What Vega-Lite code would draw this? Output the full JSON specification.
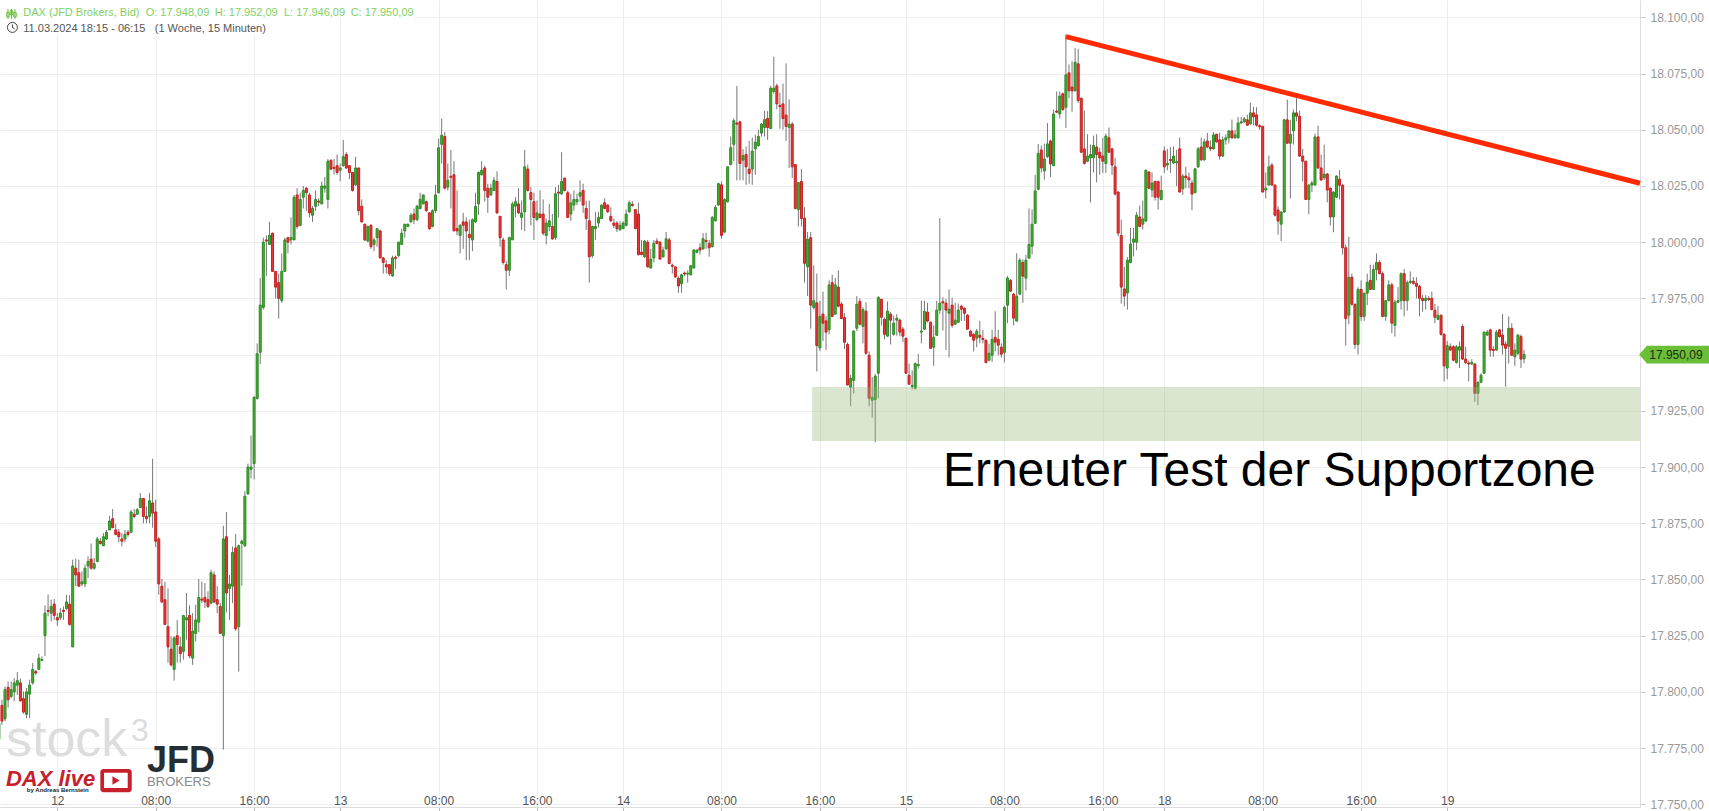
{"$schema":"https://vega.github.io/schema/vega-lite/v6.json","width":1640,"height":807,"padding":{"left":0,"top":0,"right":69,"bottom":4},"autosize":{"type":"none"},"background":"#ffffff","config":{"view":{"stroke":null},"font":"Liberation Sans"},
"datasets":{"candles":[
{"i":-1,"o":17779,"c":17786,"h":17788,"l":17777},{"i":0,"o":17794,"c":17787,"h":17796.5,"l":17785.4},{"i":1,"o":17788,"c":17801,"h":17802.4,"l":17787},{"i":2,"o":17802,"c":17796.5,"h":17804.6,"l":17793},{"i":3,"o":17798,"c":17801,"h":17804.6,"l":17797.2},{"i":4,"o":17800,"c":17804,"h":17806.1,"l":17795.8},{"i":5,"o":17803,"c":17805,"h":17808.8,"l":17798.7},{"i":6,"o":17804,"c":17796,"h":17806,"l":17795.8},{"i":7,"o":17797,"c":17791,"h":17800.2,"l":17790.3},{"i":8,"o":17790,"c":17800,"h":17801.7,"l":17788.3},{"i":9,"o":17799,"c":17803,"h":17805.4,"l":17788.3},{"i":10,"o":17804,"c":17810,"h":17812.8,"l":17803.2},{"i":11,"o":17809,"c":17808.4,"h":17809.8,"l":17807.6},{"i":12,"o":17810,"c":17815,"h":17817,"l":17810},{"i":13,"o":17814,"c":17814.4,"h":17815.8,"l":17813.6},{"i":14,"o":17825,"c":17835,"h":17838.5,"l":17816},{"i":15,"o":17836.3,"c":17835.8,"h":17843.3,"l":17833.6},{"i":16,"o":17835,"c":17838,"h":17841,"l":17831.3},{"i":17,"o":17839,"c":17834,"h":17841.3,"l":17832},{"i":18,"o":17833,"c":17832,"h":17835,"l":17829.4},{"i":19,"o":17833,"c":17835,"h":17837.3,"l":17832},{"i":20,"o":17836.3,"c":17835.8,"h":17838,"l":17832},{"i":21,"o":17837,"c":17840,"h":17843.2,"l":17836.5},{"i":22,"o":17839,"c":17830,"h":17843,"l":17829.4},{"i":23,"o":17820,"c":17856,"h":17858.8,"l":17820},{"i":24,"o":17855,"c":17852,"h":17859.2,"l":17847},{"i":25,"o":17853,"c":17847,"h":17858.8,"l":17847},{"i":26,"o":17848,"c":17849,"h":17853.6,"l":17847},{"i":27,"o":17848,"c":17855,"h":17856.6,"l":17846.6},{"i":28,"o":17856,"c":17858,"h":17860.3,"l":17850.6},{"i":29,"o":17859,"c":17855,"h":17866,"l":17854.3},{"i":30,"o":17855,"c":17857,"h":17859.5,"l":17854.3},{"i":31,"o":17858,"c":17868,"h":17869,"l":17857.6},{"i":32,"o":17867,"c":17866,"h":17868.4,"l":17865.5},{"i":33,"o":17865,"c":17869,"h":17870.6,"l":17865},{"i":34,"o":17868,"c":17871,"h":17872,"l":17867.5},{"i":35,"o":17872,"c":17876,"h":17878.3,"l":17872},{"i":36,"o":17877,"c":17873,"h":17881.3,"l":17872.9},{"i":37,"o":17872,"c":17870,"h":17874.8,"l":17869.6},{"i":38,"o":17871,"c":17869,"h":17872.4,"l":17866.5},{"i":39,"o":17868,"c":17867,"h":17870.6,"l":17864.7},{"i":40,"o":17868,"c":17870,"h":17872,"l":17866.5},{"i":41,"o":17871,"c":17870,"h":17872,"l":17869},{"i":42,"o":17871,"c":17880,"h":17881,"l":17870.6},{"i":43,"o":17879,"c":17878,"h":17881.3,"l":17877.3},{"i":44,"o":17879,"c":17881,"h":17881.8,"l":17878.8},{"i":45,"o":17882,"c":17886,"h":17888.4,"l":17881.8},{"i":46,"o":17886,"c":17878,"h":17886.2,"l":17875},{"i":47,"o":17878,"c":17877,"h":17882.5,"l":17875},{"i":48,"o":17878,"c":17885,"h":17888.4,"l":17875},{"i":49,"o":17884,"c":17879.5,"h":17903.7,"l":17873},
{"i":50,"o":17880,"c":17867,"h":17885.5,"l":17864.4},{"i":51,"o":17868,"c":17848,"h":17869,"l":17843.2},{"i":52,"o":17847,"c":17840,"h":17850.2,"l":17839.5},{"i":53,"o":17841,"c":17830,"h":17849,"l":17830},{"i":54,"o":17829,"c":17820,"h":17846,"l":17813},{"i":55,"o":17819,"c":17812,"h":17824.7,"l":17811.3},{"i":56,"o":17810,"c":17824,"h":17824.7,"l":17805},{"i":57,"o":17825,"c":17821,"h":17832,"l":17813},{"i":58,"o":17820,"c":17817,"h":17824.4,"l":17813},{"i":59,"o":17818,"c":17834,"h":17834,"l":17814.3},{"i":60,"o":17832,"c":17833,"h":17844,"l":17823.2},{"i":61,"o":17834,"c":17816,"h":17838.5,"l":17815},{"i":62,"o":17815,"c":17827,"h":17835,"l":17812},{"i":63,"o":17826,"c":17832,"h":17838.8,"l":17822.4},{"i":64,"o":17831,"c":17842,"h":17850.2,"l":17826.5},{"i":65,"o":17841.3,"c":17840.8,"h":17849,"l":17839.5},{"i":66,"o":17842,"c":17840,"h":17848.4,"l":17837.3},{"i":67,"o":17841,"c":17838,"h":17844.7,"l":17837.3},{"i":68,"o":17839.5,"c":17853,"h":17854.3,"l":17838.8},{"i":69,"o":17852,"c":17840,"h":17853.6,"l":17839.5},{"i":70,"o":17841,"c":17839,"h":17847,"l":17835},{"i":71,"o":17838,"c":17826,"h":17839.5,"l":17825.9},{"i":72,"o":17825,"c":17868,"h":17873.9,"l":17774.3},{"i":73,"o":17869,"c":17844,"h":17880,"l":17835.3},{"i":74,"o":17846,"c":17848,"h":17852,"l":17832},{"i":75,"o":17847,"c":17862,"h":17864.7,"l":17839.5},{"i":76,"o":17864,"c":17828,"h":17870.2,"l":17827.2},{"i":77,"o":17829,"c":17865,"h":17865.5,"l":17809},{"i":78,"o":17866,"c":17867,"h":17867.7,"l":17847.2},{"i":79,"o":17865,"c":17887,"h":17889.2,"l":17864.4},{"i":80,"o":17888,"c":17900,"h":17901.5,"l":17887.7},{"i":81,"o":17899,"c":17900,"h":17914,"l":17895},{"i":82,"o":17901.5,"c":17931,"h":17931.5,"l":17894.5},{"i":83,"o":17930.5,"c":17950.4,"h":17955,"l":17930},{"i":84,"o":17951,"c":17972,"h":17984,"l":17945.7},{"i":85,"o":17971,"c":18000,"h":18002,"l":17970},{"i":86,"o":18001,"c":18000.5,"h":18003,"l":17985},{"i":87,"o":17999,"c":18003,"h":18009,"l":17999},{"i":88,"o":18004,"c":17987,"h":18004.2,"l":17987},{"i":89,"o":17987,"c":17980,"h":17987.2,"l":17975},{"i":90,"o":17982,"c":17975,"h":17986,"l":17966},{"i":91,"o":17974,"c":17987,"h":17995,"l":17973},{"i":92,"o":17987,"c":18001,"h":18002,"l":17987},{"i":93,"o":18002,"c":18000,"h":18002,"l":17995},{"i":94,"o":18001,"c":18002,"h":18011,"l":17999},{"i":95,"o":18001,"c":18020,"h":18021,"l":18001},{"i":96,"o":18021,"c":18007,"h":18024,"l":18006},{"i":97,"o":18007.5,"c":18019,"h":18022,"l":18007},{"i":98,"o":18020,"c":18023,"h":18025,"l":18015},{"i":99,"o":18024,"c":18022,"h":18024.5,"l":18014},
{"i":100,"o":18021,"c":18013,"h":18022,"l":18011},{"i":101,"o":18012,"c":18015,"h":18016,"l":18009},{"i":102,"o":18016,"c":18019,"h":18023,"l":18014},{"i":103,"o":18018.3,"c":18017.8,"h":18019.5,"l":18016},{"i":104,"o":18017,"c":18025,"h":18027,"l":18017},{"i":105,"o":18024,"c":18025,"h":18029,"l":18022},{"i":106,"o":18019,"c":18036,"h":18037,"l":18015},{"i":107,"o":18036.5,"c":18032.5,"h":18036.6,"l":18032},{"i":108,"o":18033.3,"c":18032.8,"h":18037,"l":18030},{"i":109,"o":18034,"c":18031,"h":18039,"l":18030},{"i":110,"o":18032,"c":18033,"h":18035,"l":18027},{"i":111,"o":18034,"c":18038,"h":18045.5,"l":18033.6},{"i":112,"o":18039,"c":18033,"h":18040,"l":18032.6},{"i":113,"o":18034,"c":18031,"h":18034.1,"l":18028},{"i":114,"o":18031,"c":18023,"h":18031.2,"l":18022.5},{"i":115,"o":18025.5,"c":18033,"h":18038,"l":18025},{"i":116,"o":18033,"c":18014,"h":18033.1,"l":18012},{"i":117,"o":18016,"c":18009,"h":18019,"l":18008.8},{"i":118,"o":18008,"c":18001,"h":18008.1,"l":18000.5},{"i":119,"o":18000.5,"c":18007,"h":18007.4,"l":18000},{"i":120,"o":18007.5,"c":17998,"h":18008,"l":17997},{"i":121,"o":17999,"c":18001,"h":18002,"l":17996},{"i":122,"o":18002,"c":18006,"h":18006.2,"l":17998},{"i":123,"o":18005,"c":17993,"h":18005.6,"l":17993},{"i":124,"o":17993,"c":17991,"h":17993.4,"l":17986},{"i":125,"o":17990,"c":17989,"h":17992,"l":17986},{"i":126,"o":17990,"c":17986,"h":17990.1,"l":17985},{"i":127,"o":17985,"c":17993,"h":17994,"l":17984.6},{"i":128,"o":17993.3,"c":17992.8,"h":17994,"l":17988},{"i":129,"o":17994,"c":18000,"h":18000.2,"l":17993.3},{"i":130,"o":17999,"c":18004,"h":18006,"l":17998.8},{"i":131,"o":18005,"c":18008,"h":18008.1,"l":18002},{"i":132,"o":18007,"c":18008,"h":18008.2,"l":18006.8},{"i":133,"o":18009,"c":18012,"h":18013,"l":18008.7},{"i":134,"o":18012.5,"c":18010,"h":18015,"l":18008},{"i":135,"o":18010,"c":18016,"h":18016.6,"l":18009.4},{"i":136,"o":18015,"c":18019,"h":18022,"l":18014.5},{"i":137,"o":18017,"c":18021,"h":18021.1,"l":18017},{"i":138,"o":18018,"c":18014,"h":18018.6,"l":18013.5},{"i":139,"o":18013,"c":18006,"h":18013.4,"l":18005.5},{"i":140,"o":18007,"c":18014,"h":18014.6,"l":18006.6},{"i":141,"o":18014,"c":18021,"h":18025.5,"l":18013},{"i":142,"o":18022,"c":18042,"h":18046,"l":18021.6},{"i":143,"o":18043.5,"c":18047.5,"h":18055,"l":18035},{"i":144,"o":18047,"c":18024,"h":18049,"l":18023.4},{"i":145,"o":18024.5,"c":18027.5,"h":18035,"l":18023},{"i":146,"o":18029.3,"c":18028.8,"h":18041,"l":18015},{"i":147,"o":18030,"c":18005,"h":18036,"l":18005},{"i":148,"o":18006,"c":18005,"h":18023,"l":18003},{"i":149,"o":18003,"c":18007.5,"h":18008,"l":17995},
{"i":150,"o":18009,"c":18007.5,"h":18013,"l":17997},{"i":151,"o":18009,"c":18005,"h":18011,"l":17992},{"i":152,"o":18003.5,"c":18002,"h":18010,"l":17992},{"i":153,"o":18001,"c":18010,"h":18010.6,"l":17996},{"i":154,"o":18009,"c":18016,"h":18022,"l":18008.7},{"i":155,"o":18017,"c":18031,"h":18031.4,"l":18012},{"i":156,"o":18030,"c":18032,"h":18036,"l":18029.6},{"i":157,"o":18033,"c":18023,"h":18034,"l":18018},{"i":158,"o":18024,"c":18020,"h":18026,"l":18013},{"i":159,"o":18021,"c":18024,"h":18026,"l":18020.6},{"i":160,"o":18023,"c":18027.5,"h":18029,"l":18022.6},{"i":161,"o":18027,"c":18013,"h":18031.5,"l":18012.7},{"i":162,"o":18011.5,"c":18002,"h":18011.6,"l":17998},{"i":163,"o":18001,"c":17991,"h":18002,"l":17990},{"i":164,"o":17990,"c":17987.5,"h":17991.5,"l":17979},{"i":165,"o":17987.5,"c":18002,"h":18002.5,"l":17985},{"i":166,"o":18001,"c":18017,"h":18018,"l":18001},{"i":167,"o":18016,"c":18018,"h":18020,"l":18011},{"i":168,"o":18017,"c":18013,"h":18024,"l":18012.5},{"i":169,"o":18011,"c":18013,"h":18018.5,"l":18005.5},{"i":170,"o":18013.5,"c":18033.5,"h":18041,"l":18005},{"i":171,"o":18032.5,"c":18023,"h":18034.5,"l":18022.5},{"i":172,"o":18022,"c":18019,"h":18024.5,"l":18007.5},{"i":173,"o":18018,"c":18011,"h":18022,"l":18001},{"i":174,"o":18010,"c":18013,"h":18018.5,"l":18009.5},{"i":175,"o":18012.5,"c":18011,"h":18023,"l":18010.5},{"i":176,"o":18012.5,"c":18004,"h":18019,"l":18003},{"i":177,"o":18003,"c":18008.5,"h":18010.5,"l":17999},{"i":178,"o":18007,"c":18009.5,"h":18017,"l":18005},{"i":179,"o":18007,"c":18001.5,"h":18012.5,"l":18001},{"i":180,"o":18002,"c":18021.5,"h":18024.5,"l":18001},{"i":181,"o":18022.3,"c":18021.8,"h":18025.5,"l":18011},{"i":182,"o":18021.5,"c":18027,"h":18040,"l":18021},{"i":183,"o":18028.5,"c":18023,"h":18028.6,"l":18022.5},{"i":184,"o":18022,"c":18011,"h":18023,"l":18010.7},{"i":185,"o":18012.5,"c":18017.5,"h":18021.5,"l":18009.5},{"i":186,"o":18016.5,"c":18019,"h":18023,"l":18014},{"i":187,"o":18018,"c":18019,"h":18021.5,"l":18016.4},{"i":188,"o":18020.5,"c":18022,"h":18027.5,"l":18018},{"i":189,"o":18023,"c":18016.5,"h":18026,"l":18013},{"i":190,"o":18015,"c":18010.5,"h":18018.5,"l":18005.5},{"i":191,"o":18009.5,"c":17993.5,"h":18018.5,"l":17982},{"i":192,"o":17994,"c":18007,"h":18007.3,"l":17993},{"i":193,"o":18006,"c":18007,"h":18013.5,"l":18001},{"i":194,"o":18008.5,"c":18011,"h":18013.5,"l":18006.5},{"i":195,"o":18010.5,"c":18016.5,"h":18016.7,"l":18010.2},{"i":196,"o":18017.5,"c":18015,"h":18019.5,"l":18014.6},{"i":197,"o":18016.5,"c":18013.5,"h":18016.7,"l":18013},{"i":198,"o":18011.5,"c":18009.5,"h":18015.5,"l":18009},{"i":199,"o":18008.5,"c":18007.5,"h":18010.5,"l":18006.3},
{"i":200,"o":18008.5,"c":18006,"h":18009.3,"l":18004.5},{"i":201,"o":18005.5,"c":18007.5,"h":18009.3,"l":18005},{"i":202,"o":18006,"c":18008.5,"h":18009.3,"l":18006},{"i":203,"o":18007.5,"c":18012.5,"h":18014.5,"l":18007},{"i":204,"o":18013.5,"c":18017.5,"h":18018.5,"l":18013},{"i":205,"o":18016.8,"c":18016.3,"h":18018.3,"l":18015.8},{"i":206,"o":18014.5,"c":18006,"h":18014.6,"l":18005.8},{"i":207,"o":18012.5,"c":17994.5,"h":18017.5,"l":17994},{"i":208,"o":17995.5,"c":17994.5,"h":18001,"l":17994.2},{"i":209,"o":17993.5,"c":18000.5,"h":18001,"l":17993},{"i":210,"o":18000,"c":17989,"h":18001,"l":17988.7},{"i":211,"o":17988.5,"c":17992.5,"h":17997,"l":17988.3},{"i":212,"o":17993,"c":17999.5,"h":18001,"l":17991},{"i":213,"o":18000.5,"c":17999.5,"h":18001.8,"l":17999},{"i":214,"o":18000,"c":17992.5,"h":18000.3,"l":17992.2},{"i":215,"o":17993.5,"c":17996.5,"h":17998,"l":17993.2},{"i":216,"o":17997,"c":18001.5,"h":18004.5,"l":17996.7},{"i":217,"o":18001,"c":17990.5,"h":18002,"l":17990.2},{"i":218,"o":17989.8,"c":17989.3,"h":17990.5,"l":17986},{"i":219,"o":17989,"c":17984.5,"h":17989.3,"l":17984.2},{"i":220,"o":17984,"c":17980.5,"h":17984.8,"l":17977.5},{"i":221,"o":17981.5,"c":17985.5,"h":17986,"l":17977.5},{"i":222,"o":17986.3,"c":17985.8,"h":17987,"l":17985},{"i":223,"o":17985.8,"c":17986.2,"h":17987.5,"l":17982},{"i":224,"o":17985.5,"c":17989.5,"h":17989.7,"l":17985.2},{"i":225,"o":17988.5,"c":17996.5,"h":17997,"l":17988.3},{"i":226,"o":17995.5,"c":17996.5,"h":17996.7,"l":17995},{"i":227,"o":17997.5,"c":17996.5,"h":17999.5,"l":17994.5},{"i":228,"o":17997,"c":18001.5,"h":18004,"l":17996.7},{"i":229,"o":18000.8,"c":18000.3,"h":18004.2,"l":17997},{"i":230,"o":17999.5,"c":17997.5,"h":18001,"l":17993.5},{"i":231,"o":17998,"c":18011,"h":18011.7,"l":17997.7},{"i":232,"o":18009.5,"c":18015.5,"h":18016.5,"l":18009.2},{"i":233,"o":18016.5,"c":18026,"h":18026.4,"l":18016.2},{"i":234,"o":18025.5,"c":18003,"h":18027,"l":18001.5},{"i":235,"o":18004.5,"c":18019,"h":18019.5,"l":18004},{"i":236,"o":18018,"c":18033.5,"h":18033.8,"l":18017.6},{"i":237,"o":18034.5,"c":18042,"h":18047,"l":18034.2},{"i":238,"o":18043.5,"c":18054,"h":18055,"l":18036},{"i":239,"o":18053,"c":18052.5,"h":18069.5,"l":18027.5},{"i":240,"o":18053.5,"c":18035,"h":18054,"l":18027.5},{"i":241,"o":18036.5,"c":18038.5,"h":18041.4,"l":18027.5},{"i":242,"o":18039,"c":18033.5,"h":18042.5,"l":18025.5},{"i":243,"o":18032.5,"c":18030.5,"h":18045,"l":18026},{"i":244,"o":18032.5,"c":18040.5,"h":18046.5,"l":18025.5},{"i":245,"o":18041.5,"c":18044.5,"h":18047.8,"l":18030},{"i":246,"o":18043,"c":18047,"h":18050,"l":18042.4},{"i":247,"o":18048.5,"c":18052.5,"h":18053,"l":18047},{"i":248,"o":18051,"c":18054.5,"h":18058.5,"l":18047},{"i":249,"o":18055,"c":18051,"h":18058.3,"l":18045.5},
{"i":250,"o":18050.5,"c":18068.5,"h":18069.5,"l":18050.5},{"i":251,"o":18067,"c":18068.5,"h":18082.5,"l":18066},{"i":252,"o":18069.5,"c":18061.5,"h":18070.5,"l":18059},{"i":253,"o":18060.8,"c":18060.3,"h":18066.5,"l":18050.5},{"i":254,"o":18061.5,"c":18055,"h":18070.5,"l":18050},{"i":255,"o":18056.5,"c":18051.5,"h":18079.5,"l":18045},{"i":256,"o":18051,"c":18052.5,"h":18063.5,"l":18033},{"i":257,"o":18052.5,"c":18033.5,"h":18053.4,"l":18028.5},{"i":258,"o":18034.5,"c":18015,"h":18034.6,"l":18014.6},{"i":259,"o":18014.5,"c":18026.5,"h":18026.8,"l":18007},{"i":260,"o":18027,"c":18010.5,"h":18032.5,"l":18007},{"i":261,"o":18010.7,"c":17990.6,"h":18015.6,"l":17982},{"i":262,"o":17989,"c":18001.3,"h":18004.5,"l":17976},{"i":263,"o":18002,"c":17972,"h":18004.5,"l":17961.5},{"i":264,"o":17971,"c":17974,"h":17989.6,"l":17970},{"i":265,"o":17973,"c":17954,"h":17986,"l":17942.5},{"i":266,"o":17953,"c":17967,"h":17974,"l":17951.5},{"i":267,"o":17968,"c":17964,"h":17978,"l":17956},{"i":268,"o":17965,"c":17960,"h":17967,"l":17952},{"i":269,"o":17961,"c":17981,"h":17983,"l":17959},{"i":270,"o":17982,"c":17967,"h":17985.5,"l":17966.6},{"i":271,"o":17968,"c":17981,"h":17984,"l":17967.7},{"i":272,"o":17980,"c":17971.5,"h":17987.5,"l":17971},{"i":273,"o":17972.5,"c":17966,"h":17973.4,"l":17965.8},{"i":274,"o":17966.5,"c":17955.5,"h":17968.5,"l":17952.5},{"i":275,"o":17954.5,"c":17936.5,"h":17955.4,"l":17936.2},{"i":276,"o":17935.5,"c":17939.5,"h":17941,"l":17927},{"i":277,"o":17938.5,"c":17960.5,"h":17960.8,"l":17932.7},{"i":278,"o":17961.7,"c":17972.4,"h":17976,"l":17960.5},{"i":279,"o":17973.7,"c":17963.5,"h":17975,"l":17963},{"i":280,"o":17962.6,"c":17970,"h":17971,"l":17955},{"i":281,"o":17969.3,"c":17950.6,"h":17973.3,"l":17950},{"i":282,"o":17949.7,"c":17930.6,"h":17951.4,"l":17927},{"i":283,"o":17929.7,"c":17931,"h":17940,"l":17922},{"i":284,"o":17930,"c":17940.4,"h":17941.4,"l":17911},{"i":285,"o":17941.7,"c":17975.5,"h":17975.8,"l":17930.6},{"i":286,"o":17974.6,"c":17966.6,"h":17974.8,"l":17963},{"i":287,"o":17965.7,"c":17959,"h":17966.6,"l":17956.7},{"i":288,"o":17958.2,"c":17969.3,"h":17973.6,"l":17958},{"i":289,"o":17968,"c":17965.3,"h":17968.9,"l":17954.5},{"i":290,"o":17959,"c":17964,"h":17967.4,"l":17958.4},{"i":291,"o":17965.3,"c":17966.2,"h":17968,"l":17958.4},{"i":292,"o":17965.3,"c":17960,"h":17966,"l":17958.2},{"i":293,"o":17961.3,"c":17958.2,"h":17962.2,"l":17955.5},{"i":294,"o":17957.3,"c":17941.7,"h":17957.5,"l":17941.4},{"i":295,"o":17940.8,"c":17936.8,"h":17946,"l":17936.5},{"i":296,"o":17935.8,"c":17936.3,"h":17943,"l":17934.5},{"i":297,"o":17935,"c":17946,"h":17946.5,"l":17934.5},{"i":298,"o":17945.1,"c":17945.6,"h":17950.3,"l":17943.7},{"i":299,"o":17960,"c":17960.5,"h":17974,"l":17955},
{"i":300,"o":17961.3,"c":17969.3,"h":17974,"l":17961},{"i":301,"o":17968.9,"c":17964.9,"h":17973,"l":17964.4},{"i":302,"o":17964.4,"c":17952.8,"h":17964.7,"l":17952.5},{"i":303,"o":17953.3,"c":17957.7,"h":17963,"l":17945},{"i":304,"o":17958.6,"c":17969.8,"h":17974,"l":17958.3},{"i":305,"o":17969.8,"c":17972.9,"h":18010.7,"l":17968},{"i":306,"o":17973.5,"c":17973,"h":17975.5,"l":17960.7},{"i":307,"o":17972.9,"c":17969.8,"h":17974.8,"l":17952},{"i":308,"o":17968.4,"c":17970.2,"h":17979,"l":17948.7},{"i":309,"o":17972,"c":17963,"h":17975.3,"l":17962},{"i":310,"o":17963.5,"c":17965.3,"h":17973,"l":17963.2},{"i":311,"o":17964.4,"c":17969.8,"h":17972.7,"l":17964.1},{"i":312,"o":17971.5,"c":17970.2,"h":17972.2,"l":17965},{"i":313,"o":17970.6,"c":17968.4,"h":17971,"l":17965},{"i":314,"o":17967.5,"c":17961.3,"h":17968,"l":17961},{"i":315,"o":17960.4,"c":17958.2,"h":17961,"l":17957.8},{"i":316,"o":17959,"c":17956.4,"h":17959.5,"l":17951.4},{"i":317,"o":17957.3,"c":17960.4,"h":17961.4,"l":17953.3},{"i":318,"o":17958.6,"c":17957.7,"h":17965,"l":17955},{"i":319,"o":17957.2,"c":17956.7,"h":17961,"l":17955},{"i":320,"o":17956.4,"c":17946.5,"h":17956.7,"l":17946},{"i":321,"o":17947.5,"c":17950.6,"h":17954.8,"l":17947},{"i":322,"o":17949.7,"c":17956.8,"h":17961,"l":17946.7},{"i":323,"o":17957.7,"c":17955.5,"h":17969.3,"l":17951.4},{"i":324,"o":17956.8,"c":17954.2,"h":17961,"l":17949.6},{"i":325,"o":17953.3,"c":17950.2,"h":17955,"l":17948.7},{"i":326,"o":17951,"c":17971,"h":17971.7,"l":17946.6},{"i":327,"o":17972,"c":17984,"h":17985,"l":17964},{"i":328,"o":17983,"c":17978.2,"h":17983.6,"l":17977.8},{"i":329,"o":17976.9,"c":17966.2,"h":17977.5,"l":17963},{"i":330,"o":17964.9,"c":17976,"h":17995,"l":17964.7},{"i":331,"o":17976.9,"c":17992,"h":17992.9,"l":17976.6},{"i":332,"o":17991,"c":17984.9,"h":17992.4,"l":17973},{"i":333,"o":17984,"c":17992,"h":17994.4,"l":17978.5},{"i":334,"o":17992.9,"c":17999,"h":18015,"l":17992.6},{"i":335,"o":17998.2,"c":18008,"h":18014.6,"l":17994.5},{"i":336,"o":18008.4,"c":18022.8,"h":18030,"l":18008},{"i":337,"o":18023.5,"c":18039.5,"h":18043.7,"l":18023.2},{"i":338,"o":18041,"c":18033,"h":18043,"l":18031},{"i":339,"o":18031.7,"c":18037,"h":18043.8,"l":18027.8},{"i":340,"o":18038,"c":18043.7,"h":18053,"l":18037.5},{"i":341,"o":18045,"c":18034.8,"h":18045.6,"l":18029},{"i":342,"o":18034,"c":18057,"h":18059,"l":18033.8},{"i":343,"o":18058.3,"c":18057.8,"h":18067,"l":18057.4},{"i":344,"o":18057,"c":18065,"h":18067,"l":18055},{"i":345,"o":18066,"c":18059,"h":18066.5,"l":18058.4},{"i":346,"o":18060,"c":18074.4,"h":18092.3,"l":18050.8},{"i":347,"o":18075.3,"c":18067.3,"h":18079,"l":18064},{"i":348,"o":18069,"c":18067.3,"h":18080.5,"l":18058},{"i":349,"o":18067.3,"c":18080,"h":18086.4,"l":18067},
{"i":350,"o":18079.3,"c":18063,"h":18086,"l":18062},{"i":351,"o":18064,"c":18040,"h":18064.3,"l":18039.6},{"i":352,"o":18041.5,"c":18035,"h":18058.5,"l":18034.5},{"i":353,"o":18036,"c":18038.3,"h":18048,"l":18035.6},{"i":354,"o":18037.5,"c":18039,"h":18043.4,"l":18017.7},{"i":355,"o":18037.5,"c":18043,"h":18047.4,"l":18031},{"i":356,"o":18042.3,"c":18039,"h":18048,"l":18026.6},{"i":357,"o":18040,"c":18037.5,"h":18042,"l":18030},{"i":358,"o":18038.3,"c":18036,"h":18046.4,"l":18030.8},{"i":359,"o":18035,"c":18047.2,"h":18048.3,"l":18030.8},{"i":360,"o":18046.4,"c":18040,"h":18051,"l":18039.6},{"i":361,"o":18041.5,"c":18034.3,"h":18042,"l":18030},{"i":362,"o":18033.5,"c":18021.4,"h":18037.5,"l":18020.7},{"i":363,"o":18022.3,"c":18004,"h":18022.6,"l":18002.6},{"i":364,"o":18003,"c":17980,"h":18010,"l":17972.7},{"i":365,"o":17979.2,"c":17976,"h":17989,"l":17971.5},{"i":366,"o":17977.4,"c":17992,"h":17993.4,"l":17970},{"i":367,"o":17991,"c":17999.2,"h":18006.3,"l":17990.6},{"i":368,"o":18000,"c":18001.4,"h":18006.3,"l":17993.7},{"i":369,"o":18000,"c":18012,"h":18013.4,"l":17996.4},{"i":370,"o":18011.2,"c":18007,"h":18016.3,"l":18006.6},{"i":371,"o":18008,"c":18010.3,"h":18018.5,"l":18005.6},{"i":372,"o":18009.4,"c":18032,"h":18032.3,"l":18009},{"i":373,"o":18031.2,"c":18024,"h":18031.5,"l":18023.6},{"i":374,"o":18023.2,"c":18026.3,"h":18031,"l":18020},{"i":375,"o":18027,"c":18020,"h":18027.3,"l":18018.5},{"i":376,"o":18027,"c":18020,"h":18027.3,"l":18014.5},{"i":377,"o":18019,"c":18023,"h":18029.6,"l":18018.6},{"i":378,"o":18040.6,"c":18033.5,"h":18042.6,"l":18030.8},{"i":379,"o":18034.3,"c":18035,"h":18041.5,"l":18032},{"i":380,"o":18036.8,"c":18036.3,"h":18042.3,"l":18030.8},{"i":381,"o":18035.2,"c":18038.3,"h":18042.6,"l":18034.8},{"i":382,"o":18035.3,"c":18035.8,"h":18041,"l":18025},{"i":383,"o":18041.5,"c":18022.3,"h":18046.5,"l":18022},{"i":384,"o":18023.7,"c":18029.4,"h":18030.3,"l":18021},{"i":385,"o":18029.4,"c":18028.6,"h":18033.5,"l":18024},{"i":386,"o":18028.6,"c":18027.7,"h":18031,"l":18024},{"i":387,"o":18026.3,"c":18021.4,"h":18027.7,"l":18014.2},{"i":388,"o":18022,"c":18032.6,"h":18033,"l":18021.8},{"i":389,"o":18033.5,"c":18041.5,"h":18042.3,"l":18033},{"i":390,"o":18042.3,"c":18036.6,"h":18046.5,"l":18036.2},{"i":391,"o":18036.6,"c":18044.6,"h":18046,"l":18036.2},{"i":392,"o":18045,"c":18042.3,"h":18048.6,"l":18041.8},{"i":393,"o":18042.3,"c":18041.5,"h":18045.3,"l":18040.6},{"i":394,"o":18041.5,"c":18047.7,"h":18049,"l":18041.2},{"i":395,"o":18048,"c":18044.6,"h":18048.2,"l":18044.2},{"i":396,"o":18045.5,"c":18038.3,"h":18048.6,"l":18036.7},{"i":397,"o":18038.3,"c":18045.5,"h":18047,"l":18037.9},{"i":398,"o":18045.5,"c":18046.4,"h":18047.9,"l":18043.4},{"i":399,"o":18046.4,"c":18049.5,"h":18049.8,"l":18043.9},
{"i":400,"o":18049.5,"c":18046.4,"h":18054.5,"l":18046},{"i":401,"o":18046.4,"c":18047.7,"h":18050,"l":18046},{"i":402,"o":18046.4,"c":18053,"h":18055.7,"l":18046.1},{"i":403,"o":18053,"c":18053.5,"h":18055.7,"l":18052.7},{"i":404,"o":18053.5,"c":18054.8,"h":18055.7,"l":18053},{"i":405,"o":18054.4,"c":18052,"h":18056.7,"l":18051.7},{"i":406,"o":18052.6,"c":18057.5,"h":18062,"l":18052.3},{"i":407,"o":18057.5,"c":18055.7,"h":18060.2,"l":18052},{"i":408,"o":18056.6,"c":18052,"h":18060,"l":18051.4},{"i":409,"o":18051.8,"c":18051.3,"h":18052.5,"l":18050},{"i":410,"o":18051.5,"c":18022.3,"h":18051.8,"l":18022.1},{"i":411,"o":18023.2,"c":18024,"h":18031,"l":18019.4},{"i":412,"o":18025.4,"c":18033.5,"h":18038.5,"l":18025.1},{"i":413,"o":18034.3,"c":18025.4,"h":18035.2,"l":18025.1},{"i":414,"o":18025.4,"c":18012,"h":18025.6,"l":18011.4},{"i":415,"o":18014.3,"c":18009.4,"h":18016,"l":18003.4},{"i":416,"o":18008,"c":18013.4,"h":18013.7,"l":18000.4},{"i":417,"o":18013.4,"c":18054.4,"h":18054.9,"l":18013.2},{"i":418,"o":18054.4,"c":18044,"h":18063.4,"l":18043.7},{"i":419,"o":18044,"c":18048,"h":18054.4,"l":18019.4},{"i":420,"o":18049.5,"c":18057.5,"h":18059,"l":18043.4},{"i":421,"o":18057.5,"c":18056,"h":18064,"l":18053.8},{"i":422,"o":18056,"c":18038.3,"h":18058.5,"l":18037.9},{"i":423,"o":18038.3,"c":18036,"h":18041.5,"l":18027},{"i":424,"o":18036,"c":18019,"h":18036.2,"l":18018.7},{"i":425,"o":18019,"c":18025.4,"h":18025.7,"l":18012.4},{"i":426,"o":18025.4,"c":18026.3,"h":18027.3,"l":18022.3},{"i":427,"o":18025.4,"c":18046.8,"h":18048.3,"l":18025.2},{"i":428,"o":18046.8,"c":18033,"h":18051.8,"l":18032.6},{"i":429,"o":18033,"c":18027.7,"h":18039,"l":18027.2},{"i":430,"o":18028.6,"c":18030.3,"h":18043.4,"l":18027.7},{"i":431,"o":18030.3,"c":18023.2,"h":18030.8,"l":18017.7},{"i":432,"o":18024,"c":18011.2,"h":18024.3,"l":18007.4},{"i":433,"o":18011.2,"c":18022.3,"h":18022.6,"l":18004.4},{"i":434,"o":18020,"c":18029.4,"h":18029.7,"l":18019.7},{"i":435,"o":18028,"c":18025.3,"h":18032,"l":18019},{"i":436,"o":18025.3,"c":17997.5,"h":18026,"l":17994.5},{"i":437,"o":17997.5,"c":17966,"h":17999,"l":17954},{"i":438,"o":17967.5,"c":17984.4,"h":18002.4,"l":17963.5},{"i":439,"o":17984.4,"c":17972.4,"h":17986,"l":17971.8},{"i":440,"o":17972.4,"c":17954.5,"h":17972.7,"l":17952.5},{"i":441,"o":17954.5,"c":17979,"h":17980,"l":17950},{"i":442,"o":17979,"c":17967,"h":17983,"l":17965},{"i":443,"o":17967,"c":17977.3,"h":17977.6,"l":17965},{"i":444,"o":17977.3,"c":17982.2,"h":17986,"l":17972},{"i":445,"o":17983,"c":17979,"h":17990,"l":17978.7},{"i":446,"o":17979,"c":17987.8,"h":17990,"l":17978.7},{"i":447,"o":17987.8,"c":17991,"h":17995,"l":17983},{"i":448,"o":17991,"c":17986,"h":17992,"l":17985.7},{"i":449,"o":17986,"c":17967,"h":17987,"l":17966.6},
{"i":450,"o":17967,"c":17974,"h":17974.2,"l":17965},{"i":451,"o":17974,"c":17981,"h":17983,"l":17973.7},{"i":452,"o":17981,"c":17964,"h":17982,"l":17959.5},{"i":453,"o":17963,"c":17973.3,"h":17974.3,"l":17958},{"i":454,"o":17973.3,"c":17974,"h":17980,"l":17973},{"i":455,"o":17974,"c":17986,"h":17986.6,"l":17970},{"i":456,"o":17986,"c":17974,"h":17988,"l":17967},{"i":457,"o":17974,"c":17982,"h":17983,"l":17969.5},{"i":458,"o":17982,"c":17982.6,"h":17987,"l":17981.5},{"i":459,"o":17982.6,"c":17981.7,"h":17984.5,"l":17981},{"i":460,"o":17981.7,"c":17980.4,"h":17984.4,"l":17975},{"i":461,"o":17980.4,"c":17975,"h":17981,"l":17967},{"i":462,"o":17975,"c":17974,"h":17976.5,"l":17969},{"i":463,"o":17974,"c":17975,"h":17976.5,"l":17970},{"i":464,"o":17975,"c":17974.5,"h":17976,"l":17973.8},{"i":465,"o":17975,"c":17970,"h":17978,"l":17969.7},{"i":466,"o":17969.7,"c":17966.6,"h":17972.5,"l":17964},{"i":467,"o":17965.7,"c":17967.5,"h":17971.6,"l":17965.4},{"i":468,"o":17967.5,"c":17959,"h":17967.8,"l":17958.4},{"i":469,"o":17959,"c":17945,"h":17959.6,"l":17938},{"i":470,"o":17944,"c":17954,"h":17956,"l":17939},{"i":471,"o":17953.5,"c":17952,"h":17955,"l":17951.7},{"i":472,"o":17953.5,"c":17947.5,"h":17954.2,"l":17947},{"i":473,"o":17946.5,"c":17953.5,"h":17954.2,"l":17946},{"i":474,"o":17952,"c":17953.5,"h":17955.8,"l":17944},{"i":475,"o":17962.5,"c":17948,"h":17963.5,"l":17947.7},{"i":476,"o":17948,"c":17946.5,"h":17953.5,"l":17945.8},{"i":477,"o":17946.3,"c":17945.8,"h":17947.3,"l":17938},{"i":478,"o":17945.8,"c":17946.5,"h":17948,"l":17945.5},{"i":479,"o":17945.8,"c":17932.8,"h":17946.3,"l":17929},{"i":480,"o":17932.8,"c":17937.7,"h":17938,"l":17927.5},{"i":481,"o":17937.7,"c":17940.8,"h":17941.7,"l":17937.5},{"i":482,"o":17941.7,"c":17960,"h":17960.3,"l":17941.4},{"i":483,"o":17958.7,"c":17960,"h":17961,"l":17958.2},{"i":484,"o":17961,"c":17952,"h":17961.5,"l":17949},{"i":485,"o":17952.3,"c":17951.8,"h":17953.7,"l":17949},{"i":486,"o":17952,"c":17960,"h":17961,"l":17951.7},{"i":487,"o":17961,"c":17958,"h":17961.5,"l":17957.6},{"i":488,"o":17958.7,"c":17954.2,"h":17968,"l":17950},{"i":489,"o":17954.7,"c":17952.8,"h":17955.9,"l":17935.7},{"i":490,"o":17953.7,"c":17961.7,"h":17967,"l":17946},{"i":491,"o":17961.7,"c":17949.7,"h":17964,"l":17949.4},{"i":492,"o":17949,"c":17952,"h":17955,"l":17945},{"i":493,"o":17950.6,"c":17958.7,"h":17959,"l":17949.8},{"i":494,"o":17958,"c":17948,"h":17959,"l":17944},{"i":495,"o":17948.09,"c":17950.09,"h":17952.09,"l":17946.09}
]},
"encoding":{"x":{"field":"i","type":"quantitative","scale":{"domain":[-0.634,532.7],"nice":false,"zero":false,"padding":0},"axis":{"title":null,"values":[18,50,82,110,142,174,202,234,266,294,326,358,378,410,442,470],"labelExpr":"{'18':'12','50':'08:00','82':'16:00','110':'13','142':'08:00','174':'16:00','202':'14','234':'08:00','266':'16:00','294':'15','326':'08:00','358':'16:00','378':'18','410':'08:00','442':'16:00','470':'19'}[datum.value]","grid":true,"gridColor":"#eeeeee","gridWidth":1,"domainColor":"#dddddd","tickColor":"#bbbbbb","tickSize":4,"labelPadding":-11,"labelBaseline":"middle","labelFont":"Liberation Sans","labelFontSize":12,"labelColor":"#555555","labelOverlap":false,"labelFlush":false}},
"y":{"field":"v","type":"quantitative","scale":{"domain":[17748.8,18107.7],"nice":false,"zero":false},"axis":{"title":null,"orient":"right","values":[17750,17775,17800,17825,17850,17875,17900,17925,17950,17975,18000,18025,18050,18075,18100],"labelExpr":"replace(replace(replace(format(datum.value,',.2f'),',','#'),'.',','),'#','.')","grid":true,"gridColor":"#eeeeee","gridWidth":1,"domainColor":"#dddddd","tickColor":"#cccccc","tickSize":5,"labelPadding":5,"labelFont":"Liberation Sans","labelFontSize":12,"labelColor":"#999999","labelOverlap":false,"labelFlush":false}}},
"layer":[
{"data":{"name":"candles"},"mark":{"type":"rule","color":"#777777","strokeWidth":1,"clip":true},"encoding":{"y":{"field":"l","type":"quantitative","scale":{"domain":[17748.8,18107.7],"nice":false,"zero":false},"axis":{"title":null,"orient":"right","values":[17750,17775,17800,17825,17850,17875,17900,17925,17950,17975,18000,18025,18050,18075,18100],"labelExpr":"replace(replace(replace(format(datum.value,',.2f'),',','#'),'.',','),'#','.')","grid":true,"gridColor":"#eeeeee","gridWidth":1,"domainColor":"#dddddd","tickColor":"#cccccc","tickSize":5,"labelPadding":5,"labelFont":"Liberation Sans","labelFontSize":12,"labelColor":"#999999","labelOverlap":false,"labelFlush":false}},"y2":{"field":"h"}}},
{"data":{"name":"candles"},"mark":{"type":"bar","size":2,"strokeWidth":1,"orient":"vertical","clip":true},"encoding":{"y":{"field":"o","type":"quantitative","scale":{"domain":[17748.8,18107.7],"nice":false,"zero":false},"axis":{"title":null,"orient":"right","values":[17750,17775,17800,17825,17850,17875,17900,17925,17950,17975,18000,18025,18050,18075,18100],"labelExpr":"replace(replace(replace(format(datum.value,',.2f'),',','#'),'.',','),'#','.')","grid":true,"gridColor":"#eeeeee","gridWidth":1,"domainColor":"#dddddd","tickColor":"#cccccc","tickSize":5,"labelPadding":5,"labelFont":"Liberation Sans","labelFontSize":12,"labelColor":"#999999","labelOverlap":false,"labelFlush":false}},"y2":{"field":"c"},"fill":{"condition":{"test":"datum.c>=datum.o","value":"#44ad2b"},"value":"#e8383a"},"stroke":{"condition":{"test":"datum.c>=datum.o","value":"#2f8a28"},"value":"#c4201f"}}},
{"data":{"values":[{"i":263.5,"i2":532.7,"v":17911.6,"v2":17935.6}]},"mark":{"type":"rect","fill":"#95b876","opacity":0.35},"encoding":{"x2":{"field":"i2"},"y2":{"field":"v2"}}},
{"data":{"values":[{"i":346,"v":18091.4},{"i":532.7,"v":18026.2}]},"mark":{"type":"line","color":"#ff2a00","strokeWidth":5,"strokeCap":"butt"}},
{"data":{"values":[{"i":-0.634,"i2":134,"v":18107.7,"v2":18099.6},{"i":-0.634,"i2":87,"v":18099.6,"v2":18091.7}]},"mark":{"type":"rect","fill":"#ffffff"},"encoding":{"x2":{"field":"i2"},"y2":{"field":"v2"}}},
{"data":{"values":[{"i":306,"v":17891.5,"t":"Erneuter Test der Supportzone"}]},"mark":{"type":"text","align":"left","baseline":"alphabetic","font":"Liberation Sans","fontSize":48,"color":"#000000"},"encoding":{"text":{"field":"t"}}},
{"data":{"values":[{"i":6.94,"v":18100.4,"t":"DAX (JFD Brokers, Bid)"},{"i":46.75,"v":18100.4,"t":"O: 17.948,09"},{"i":69.2,"v":18100.4,"t":"H: 17.952,09"},{"i":91.7,"v":18100.4,"t":"L: 17.946,09"},{"i":113.4,"v":18100.4,"t":"C: 17.950,09"}]},"mark":{"type":"text","align":"left","baseline":"alphabetic","font":"Liberation Sans","fontSize":11,"color":"#7fd15f"},"encoding":{"text":{"field":"t"}}},
{"data":{"values":[{"i":6.94,"v":18093.3,"t":"11.03.2024 18:15 - 06:15"},{"i":49.7,"v":18093.3,"t":"(1 Woche, 15 Minuten)"}]},"mark":{"type":"text","align":"left","baseline":"alphabetic","font":"Liberation Sans","fontSize":11,"color":"#555555"},"encoding":{"text":{"field":"t"}}},
{"data":{"values":[{"i":3.1,"v":18101.5}]},"mark":{"type":"point","filled":false,"size":100,"strokeWidth":1,"color":"#6abf36","opacity":1,"shape":"M-0.7,-1V1M-0.95,-0.3H-0.45V0.6H-0.95ZM0,-1V1M-0.25,-0.7H0.25V0.2H-0.25ZM0.7,-1V1M0.45,-0.3H0.95V0.6H0.45Z"}},
{"data":{"values":[{"i":3.4,"v":18095.5}]},"mark":{"type":"point","filled":false,"size":100,"strokeWidth":1,"color":"#444444","opacity":1,"shape":"M-1,0A1,1 0 1,1 1,0A1,1 0 1,1 -1,0M0,-0.6L0,0L0.45,0.3"}},
{"data":{"values":[{"i":534.8,"i2":555.2,"v":17946,"v2":17953.9}]},"mark":{"type":"rect","fill":"#6abf36","clip":false},"encoding":{"x2":{"field":"i2"},"y2":{"field":"v2"}}},
{"data":{"values":[{"i":533.7,"v":17950}]},"mark":{"type":"point","filled":true,"size":310,"color":"#6abf36","opacity":1,"shape":"M-0.45,0L0.45,-1L0.45,1Z"}},
{"data":{"values":[{"i":535.7,"v":17950,"t":"17.950,09"}]},"mark":{"type":"text","align":"left","baseline":"middle","font":"Liberation Sans","fontSize":12,"color":"#1f2a14"},"encoding":{"text":{"field":"t"}}},
{"data":{"values":[{"i":1.3,"v":17771.4,"t":"stock"}]},"mark":{"type":"text","align":"left","baseline":"alphabetic","font":"Liberation Sans","fontSize":52,"color":"#dddddd"},"encoding":{"text":{"field":"t"}}},
{"data":{"values":[{"i":42,"v":17778,"t":"3"}]},"mark":{"type":"text","align":"left","baseline":"alphabetic","font":"Liberation Sans","fontSize":32,"color":"#dddddd"},"encoding":{"text":{"field":"t"}}},
{"data":{"values":[{"i":47.2,"v":17764.3,"t":"JFD"}]},"mark":{"type":"text","align":"left","baseline":"alphabetic","font":"Liberation Sans","fontWeight":"bold","fontSize":36,"color":"#252d35"},"encoding":{"text":{"field":"t"}}},
{"data":{"values":[{"i":47.2,"v":17758,"t":"BROKERS"}]},"mark":{"type":"text","align":"left","baseline":"alphabetic","font":"Liberation Sans","fontSize":13,"color":"#8a8a8a"},"encoding":{"text":{"field":"t"}}},
{"data":{"values":[{"i":1.3,"v":17758,"t":"DAX live"}]},"mark":{"type":"text","align":"left","baseline":"alphabetic","font":"Liberation Sans","fontWeight":"bold","fontStyle":"italic","fontSize":22,"color":"#c6202b"},"encoding":{"text":{"field":"t"}}},
{"data":{"values":[{"i":8.1,"v":17755.6,"t":"by Andreas Bernstein"}]},"mark":{"type":"text","align":"left","baseline":"alphabetic","font":"Liberation Sans","fontWeight":"bold","fontSize":6,"color":"#222222"},"encoding":{"text":{"field":"t"}}},
{"data":{"values":[{"i":32,"i2":42.2,"v":17755.4,"v2":17765.7}]},"mark":{"type":"rect","fill":"#c6202b","cornerRadius":3},"encoding":{"x2":{"field":"i2"},"y2":{"field":"v2"}}},
{"data":{"values":[{"i":33.2,"i2":40.9,"v":17757.2,"v2":17764}]},"mark":{"type":"rect","fill":"#ffffff"},"encoding":{"x2":{"field":"i2"},"y2":{"field":"v2"}}},
{"data":{"values":[{"i":37.1,"v":17760.6}]},"mark":{"type":"point","filled":true,"size":70,"color":"#c6202b","opacity":1,"shape":"triangle-right"}}
]}
